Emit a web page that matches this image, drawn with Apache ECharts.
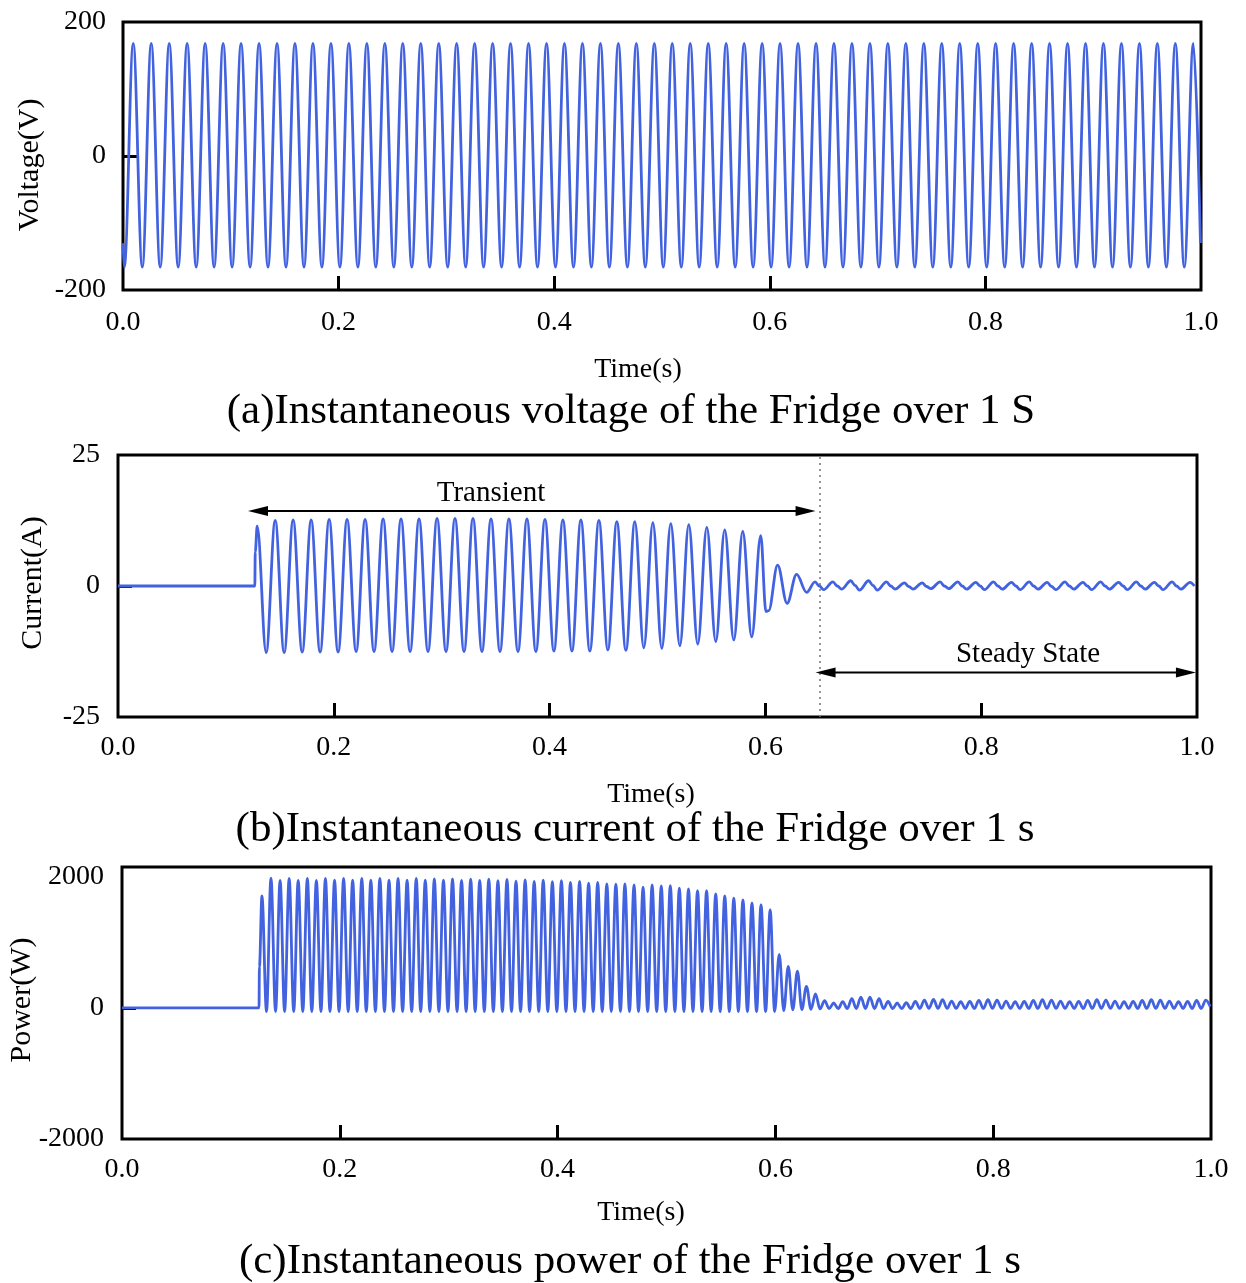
<!DOCTYPE html>
<html>
<head>
<meta charset="utf-8">
<script src="https://cdn.jsdelivr.net/npm/echarts@6/dist/echarts.min.js"></script>
<style>
html, body { margin: 0; padding: 0; background: #fff; }
#chart { width: 1246px; height: 1283px; }
</style>
</head>
<body>
<div id="chart"></div>
<script>
// ---------------- data (time in s) ----------------
const timeTicks = [0, 0.2, 0.4, 0.6, 0.8, 1.0];
const voltTicks = [-200, 0, 200];
const currTicks = [-25, 0, 25];
const powTicks  = [-2000, 0, 2000];

// Voltage: start, every crest/trough of the 60 Hz supply, end
const voltTime = [
  0,
  0.0012, 0.0095, 0.0179, 0.0262, 0.0345, 0.0429, 0.0512, 0.0595, 0.0679, 0.0762, 0.0845, 0.0929,
  0.1012, 0.1095, 0.1179, 0.1262, 0.1345, 0.1429, 0.1512, 0.1595, 0.1679, 0.1762, 0.1845, 0.1929,
  0.2012, 0.2095, 0.2179, 0.2262, 0.2345, 0.2429, 0.2512, 0.2595, 0.2679, 0.2762, 0.2845, 0.2929,
  0.3012, 0.3095, 0.3179, 0.3262, 0.3345, 0.3429, 0.3512, 0.3595, 0.3679, 0.3762, 0.3845, 0.3929,
  0.4012, 0.4095, 0.4179, 0.4262, 0.4345, 0.4429, 0.4512, 0.4595, 0.4679, 0.4762, 0.4845, 0.4929,
  0.5012, 0.5095, 0.5179, 0.5262, 0.5345, 0.5429, 0.5512, 0.5595, 0.5679, 0.5762, 0.5845, 0.5929,
  0.6012, 0.6095, 0.6179, 0.6262, 0.6345, 0.6429, 0.6512, 0.6595, 0.6679, 0.6762, 0.6845, 0.6929,
  0.7012, 0.7095, 0.7179, 0.7262, 0.7345, 0.7429, 0.7512, 0.7595, 0.7679, 0.7762, 0.7845, 0.7929,
  0.8012, 0.8095, 0.8179, 0.8262, 0.8345, 0.8429, 0.8512, 0.8595, 0.8679, 0.8762, 0.8845, 0.8929,
  0.9012, 0.9095, 0.9179, 0.9262, 0.9345, 0.9429, 0.9512, 0.9595, 0.9679, 0.9762, 0.9845, 0.9929,
  0.9995
];
const voltValue = [
  -130,
  -166, 168, -166, 168, -166, 168, -166, 168, -166, 168, -166, 168,
  -166, 168, -166, 168, -166, 168, -166, 168, -166, 168, -166, 168,
  -166, 168, -166, 168, -166, 168, -166, 168, -166, 168, -166, 168,
  -166, 168, -166, 168, -166, 168, -166, 168, -166, 168, -166, 168,
  -166, 168, -166, 168, -166, 168, -166, 168, -166, 168, -166, 168,
  -166, 168, -166, 168, -166, 168, -166, 168, -166, 168, -166, 168,
  -166, 168, -166, 168, -166, 168, -166, 168, -166, 168, -166, 168,
  -166, 168, -166, 168, -166, 168, -166, 168, -166, 168, -166, 168,
  -166, 168, -166, 168, -166, 168, -166, 168, -166, 168, -166, 168,
  -166, 168, -166, 168, -166, 168, -166, 168, -166, 168, -166, 168,
  -130
];

// Current: off, switch-on, inrush crests/troughs, decay, steady ripple
const currTime = [
  0, 0.1268, 0.1272,
  0.1290, 0.1373, 0.1457, 0.1540, 0.1623, 0.1707, 0.1790, 0.1873, 0.1957, 0.2040, 0.2123, 0.2207,
  0.2290, 0.2373, 0.2457, 0.2540, 0.2623, 0.2707, 0.2790, 0.2873, 0.2957, 0.3040, 0.3123, 0.3207,
  0.3290, 0.3373, 0.3457, 0.3540, 0.3623, 0.3707, 0.3790, 0.3873, 0.3957, 0.4040, 0.4123, 0.4207,
  0.4290, 0.4373, 0.4457, 0.4540, 0.4623, 0.4707, 0.4790, 0.4873, 0.4957, 0.5040, 0.5123, 0.5207,
  0.5290, 0.5373, 0.5457, 0.5540, 0.5623, 0.5707, 0.5790, 0.5873, 0.5957,
  0.6005, 0.6030, 0.6113, 0.6201, 0.6289, 0.6382,
  0.6460, 0.6500, 0.6540,  0.6626, 0.6666, 0.6706,  0.6791, 0.6831, 0.6871,
  0.6957, 0.6997, 0.7037,  0.7122, 0.7162, 0.7202,  0.7288, 0.7328, 0.7368,
  0.7453, 0.7493, 0.7533,  0.7619, 0.7659, 0.7699,  0.7784, 0.7824, 0.7864,
  0.7950, 0.7990, 0.8030,  0.8115, 0.8155, 0.8195,  0.8281, 0.8321, 0.8361,
  0.8446, 0.8486, 0.8526,  0.8612, 0.8652, 0.8692,  0.8777, 0.8817, 0.8857,
  0.8943, 0.8983, 0.9023,  0.9108, 0.9148, 0.9188,  0.9274, 0.9314, 0.9354,
  0.9439, 0.9479, 0.9519,  0.9605, 0.9645, 0.9685,  0.9770, 0.9810, 0.9850,
  0.9936, 0.9976
];
const currValue = [
  0, 0, 6.5,
  11.4, -12.7, 12.5, -12.7, 12.6, -12.6, 12.6, -12.6, 12.7, -12.6, 12.7, -12.5,
  12.7, -12.5, 12.8, -12.5, 12.8, -12.5, 12.8, -12.5, 12.9, -12.5, 12.9, -12.5,
  12.9, -12.5, 12.8, -12.5, 12.8, -12.5, 12.8, -12.5, 12.7, -12.4, 12.6, -12.4,
  12.6, -12.4, 12.5, -12.2, 12.3, -12.3, 12.3, -11.8, 12.1, -11.9, 11.9, -11.4,
  11.7, -11.1, 11.2, -10.6, 10.7, -10.3, 10.4, -9.7, 9.6,
  -4.9, -4.7, 4.0, -3.3, 2.2, -1.2,
  0.8, 0.0, -0.7,   0.8, 0.0, -0.6,   1.0, 0.1, -0.8,
  1.0, 0.1, -0.8,   0.8, 0.0, -0.6,   0.6, -0.1, -0.6,
  0.6, -0.1, -0.5,  0.8, 0.0, -0.5,   0.8, 0.0, -0.6,
  0.7, 0.0, -0.7,   0.8, 0.0, -0.6,   0.7, 0.0, -0.7,
  0.8, 0.0, -0.6,   0.7, -0.1, -0.7,  0.8, 0.0, -0.6,
  0.7, 0.0, -0.7,   0.8, 0.0, -0.6,   0.7, 0.0, -0.7,
  0.8, 0.0, -0.6,   0.7, 0.0, -0.7,   0.8, 0.0, -0.6,
  0.7, 0.0
];

// Power: off, switch-on, then every 120 Hz crest and trough
const powTime = [
  0, 0.1258, 0.1262,
  0.1285, 0.1327, 0.1368, 0.1410, 0.1452, 0.1493, 0.1535, 0.1577, 0.1618, 0.1660, 0.1702, 0.1743,
  0.1785, 0.1827, 0.1868, 0.1910, 0.1952, 0.1993, 0.2035, 0.2077, 0.2118, 0.2160, 0.2202, 0.2243,
  0.2285, 0.2327, 0.2368, 0.2410, 0.2452, 0.2493, 0.2535, 0.2577, 0.2618, 0.2660, 0.2702, 0.2743,
  0.2785, 0.2827, 0.2868, 0.2910, 0.2952, 0.2993, 0.3035, 0.3077, 0.3118, 0.3160, 0.3202, 0.3243,
  0.3285, 0.3327, 0.3368, 0.3410, 0.3452, 0.3493, 0.3535, 0.3577, 0.3618, 0.3660, 0.3702, 0.3743,
  0.3785, 0.3827, 0.3868, 0.3910, 0.3952, 0.3993, 0.4035, 0.4077, 0.4118, 0.4160, 0.4202, 0.4243,
  0.4285, 0.4327, 0.4368, 0.4410, 0.4452, 0.4493, 0.4535, 0.4577, 0.4618, 0.4660, 0.4702, 0.4743,
  0.4785, 0.4827, 0.4868, 0.4910, 0.4952, 0.4993, 0.5035, 0.5077, 0.5118, 0.5160, 0.5202, 0.5243,
  0.5285, 0.5327, 0.5368, 0.5410, 0.5452, 0.5493, 0.5535, 0.5577, 0.5618, 0.5660, 0.5702, 0.5743,
  0.5785, 0.5827, 0.5868, 0.5910, 0.5952, 0.5993, 0.6035, 0.6077, 0.6118, 0.6160, 0.6202, 0.6243,
  0.6285, 0.6327, 0.6368, 0.6410, 0.6452, 0.6493, 0.6535, 0.6577, 0.6618, 0.6660, 0.6702, 0.6743,
  0.6785, 0.6827, 0.6868, 0.6910, 0.6952, 0.6993, 0.7035, 0.7077, 0.7118, 0.7160, 0.7202, 0.7243,
  0.7285, 0.7327, 0.7368, 0.7410, 0.7452, 0.7493, 0.7535, 0.7577, 0.7618, 0.7660, 0.7702, 0.7743,
  0.7785, 0.7827, 0.7868, 0.7910, 0.7952, 0.7993, 0.8035, 0.8077, 0.8118, 0.8160, 0.8202, 0.8243,
  0.8285, 0.8327, 0.8368, 0.8410, 0.8452, 0.8493, 0.8535, 0.8577, 0.8618, 0.8660, 0.8702, 0.8743,
  0.8785, 0.8827, 0.8868, 0.8910, 0.8952, 0.8993, 0.9035, 0.9077, 0.9118, 0.9160, 0.9202, 0.9243,
  0.9285, 0.9327, 0.9368, 0.9410, 0.9452, 0.9493, 0.9535, 0.9577, 0.9618, 0.9660, 0.9702, 0.9743,
  0.9785, 0.9827, 0.9868, 0.9910, 0.9952, 0.9993
];
const powValue = [
  0, 0, 630,
  1710, -55, 1980, -55, 1945, -55, 1975, -55, 1945, -55, 1975, -55,
  1945, -55, 1975, -55, 1950, -55, 1975, -55, 1950, -55, 1975, -55,
  1950, -55, 1975, -55, 1950, -55, 1975, -55, 1950, -55, 1975, -55,
  1950, -55, 1970, -55, 1950, -55, 1970, -55, 1945, -55, 1965, -55,
  1945, -55, 1965, -55, 1940, -55, 1960, -55, 1935, -55, 1955, -55,
  1930, -55, 1950, -55, 1925, -55, 1940, -55, 1915, -55, 1930, -55,
  1905, -55, 1915, -55, 1893, -55, 1889, -55, 1893, -55, 1878, -55,
  1843, -55, 1878, -55, 1863, -55, 1867, -55, 1827, -55, 1817, -55,
  1791, -55, 1791, -55, 1740, -55, 1710, -55, 1675, -55, 1649, -55,
  1598, -55, 1573, -55, 1496, -55, 815, -40, 635, -30, 560, -25,
  330, -20, 215, -15, 110, -10, 75, -10, 95, -10, 140, -10,
  165, -10, 165, -10, 140, -10, 100, -10, 75, -10, 80, -10,
  100, -8, 120, -8, 130, -8, 125, -8, 105, -8, 95, -8,
  100, -8, 115, -8, 125, -8, 120, -8, 105, -8, 95, -8,
  100, -8, 115, -8, 125, -8, 120, -8, 105, -8, 95, -8,
  100, -8, 115, -8, 125, -8, 120, -8, 105, -8, 95, -8,
  100, -8, 115, -8, 125, -8, 120, -8, 105, -8, 95, -8,
  100, -8, 115, -8, 120, 20
];

// Transient / steady-state annotation on the current panel
const regimeLabels   = ['Transient', 'Steady State'];
const regimeFrom     = [0.1205, 0.6465];
const regimeTo       = [0.6465, 0.9990];
const regimeLevel    = [14.3, -16.5];
const regimeTextTime = [0.3457, 0.8434];
const regimeBoundary = 0.646;

// ---------------- chart ----------------
const FONT = '"Liberation Serif", "Times New Roman", serif';
const BLUE = '#4262e0';

function pairs(t, v) { return t.map((x, i) => [x, v[i]]); }

const grids = [
  { left: 123, top: 22,  width: 1078, height: 268 },
  { left: 118, top: 455, width: 1079, height: 262 },
  { left: 122, top: 867, width: 1089, height: 272 }
].map(g => Object.assign({ show: true, borderColor: '#000', borderWidth: 3, backgroundColor: 'transparent' }, g));

function xAxisFor(i, margin) {
  return {
    type: 'value', gridIndex: i, min: 0, max: 1, interval: 0.2, position: 'bottom',
    axisLine: { show: false, onZero: false }, splitLine: { show: false },
    axisTick: { show: true, inside: true, length: 14, customValues: [0.2, 0.4, 0.6, 0.8],
                lineStyle: { color: '#000', width: 3 } },
    axisLabel: { customValues: timeTicks, formatter: v => v.toFixed(1), margin: margin,
                 fontFamily: FONT, fontSize: 28, color: '#000' }
  };
}
function yAxisFor(i, min, max, interval, ticks, margin) {
  return {
    type: 'value', gridIndex: i, min: min, max: max, interval: interval, position: 'left',
    axisLine: { show: false, onZero: false }, splitLine: { show: false },
    axisTick: { show: true, inside: true, length: 14, customValues: [0],
                lineStyle: { color: '#000', width: 3 } },
    axisLabel: { customValues: ticks, formatter: v => String(v), margin: margin,
                 fontFamily: FONT, fontSize: 28, color: '#000' }
  };
}

function waveSeries(i, data) {
  return {
    type: 'line', xAxisIndex: i, yAxisIndex: i, data: data,
    showSymbol: false, symbol: 'none', smooth: 0.36, smoothMonotone: 'x',
    lineStyle: { color: BLUE, width: 2.8 }, itemStyle: { color: BLUE },
    silent: true, z: 3
  };
}

function renderRegime(params, api) {
  const lvl = api.value(2);
  const a = api.coord([api.value(0), lvl]);
  const b = api.coord([api.value(1), lvl]);
  const c = api.coord([api.value(3), lvl]);
  const L = 20, W = 5;
  return {
    type: 'group',
    children: [
      { type: 'line', shape: { x1: a[0] + L - 1, y1: a[1], x2: b[0] - L + 1, y2: b[1] },
        style: { stroke: '#000', lineWidth: 2 } },
      { type: 'polygon', shape: { points: [[a[0], a[1]], [a[0] + L, a[1] - W], [a[0] + L, a[1] + W]] },
        style: { fill: '#000' } },
      { type: 'polygon', shape: { points: [[b[0], b[1]], [b[0] - L, b[1] - W], [b[0] - L, b[1] + W]] },
        style: { fill: '#000' } },
      { type: 'text', x: c[0], y: a[1] - 18,
        style: { text: regimeLabels[params.dataIndex], font: '29px ' + FONT, fill: '#000',
                 align: 'center', verticalAlign: 'middle', textAlign: 'center', textVerticalAlign: 'middle' } }
    ]
  };
}

function label(text, x, y, size, rotate) {
  return {
    type: 'text', x: x, y: y, rotation: rotate ? Math.PI / 2 : 0, silent: true,
    style: { text: text, font: size + 'px ' + FONT, fill: '#000',
             align: 'center', verticalAlign: 'middle', textAlign: 'center', textVerticalAlign: 'middle' }
  };
}

const chart = echarts.init(document.getElementById('chart'), null, { renderer: 'canvas' });
chart.setOption({
  animation: false,
  backgroundColor: '#fff',
  grid: grids,
  xAxis: [xAxisFor(0, 19), xAxisFor(1, 17), xAxisFor(2, 17)],
  yAxis: [
    yAxisFor(0, -200, 200, 200, voltTicks, 17),
    yAxisFor(1, -25, 25, 25, currTicks, 18),
    yAxisFor(2, -2000, 2150, 2000, powTicks, 18)
  ],
  series: [
    waveSeries(0, pairs(voltTime, voltValue)),
    Object.assign(waveSeries(1, pairs(currTime, currValue)), {
      markLine: {
        silent: true, symbol: 'none', label: { show: false },
        lineStyle: { type: [2, 4], color: '#777', width: 1.5 },
        data: [{ xAxis: regimeBoundary }]
      }
    }),
    waveSeries(2, pairs(powTime, powValue)),
    {
      type: 'custom', xAxisIndex: 1, yAxisIndex: 1, silent: true, z: 5,
      encode: { x: [0, 1], y: 2 },
      data: regimeFrom.map((f, i) => [f, regimeTo[i], regimeLevel[i], regimeTextTime[i]]),
      renderItem: renderRegime
    }
  ],
  graphic: [
    label('Voltage(V)', 30, 165, 30, true),
    label('Current(A)', 33, 583, 30, true),
    label('Power(W)', 22, 1000, 30, true),
    label('Time(s)', 638, 370, 28),
    label('Time(s)', 651, 795, 28),
    label('Time(s)', 641, 1213, 28),
    label('(a)Instantaneous voltage of the Fridge over 1 S', 631, 412, 43),
    label('(b)Instantaneous current of the Fridge over 1 s', 635, 830, 43),
    label('(c)Instantaneous power of the Fridge over 1 s', 630, 1262, 43)
  ]
});
</script>
</body>
</html>
